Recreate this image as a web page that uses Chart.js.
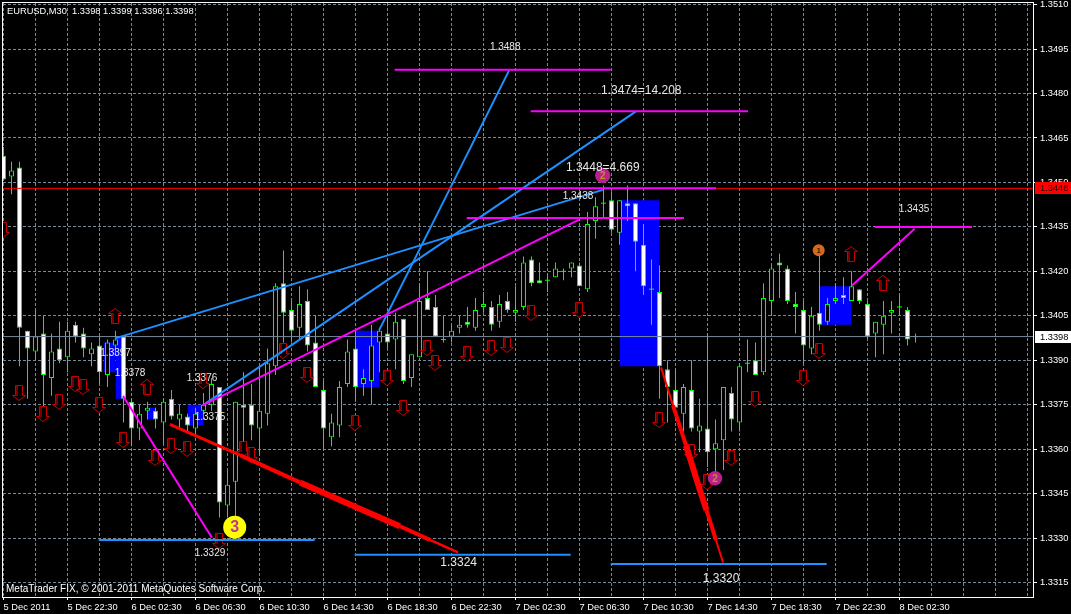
<!DOCTYPE html>
<html>
<head>
<meta charset="utf-8">
<title>EURUSD,M30</title>
<script src="https://cdn.jsdelivr.net/npm/chart.js@4/dist/chart.umd.min.js"></script>
<style>
html, body { margin: 0; padding: 0; background: #000; overflow: hidden; }
canvas { display: block; }
</style>
</head>
<body>
<canvas id="chart" width="1071" height="614"></canvas>
<script>
// bars are numbered from the left edge, one bar = 30 minutes
const barOpen = [1.3459,1.3452,1.3455,1.3400,1.3393,1.3399,1.3384,1.3394,1.3391,1.3402,
1.3399,1.3392,1.3395,1.3385,1.3395,1.3398,1.3376,1.3367,1.3373,1.3373,
1.3369,1.3377,1.3370,1.3371,1.3367,1.3373,1.3375,1.3381,1.3341,1.3349,
1.3375,1.3375,1.3367,1.3372,1.3388,1.3416,1.3407,1.3401,1.3410,1.3396,
1.3380,1.3364,1.3368,1.3382,1.3394,1.3382,1.3383,1.3396,1.3399,1.3397,
1.3404,1.3384,1.3391,1.3411,1.3408,1.3397,1.3398,1.3401,1.3403,1.3401,
1.3408,1.3408,1.3403,1.3410,1.3406,1.3408,1.3424,1.3417,1.3417,1.3418,
1.3420,1.3421,1.3422,1.3414,1.3437,1.3443,1.3444,1.3433,1.3443,1.3443,
1.3429,1.3414,1.3413,1.3387,1.3380,1.3372,1.3380,1.3366,1.3367,1.3360,
1.3363,1.3379,1.3369,1.3389,1.3390,1.3386,1.3410,1.3423,1.3421,1.3409,
1.3407,1.3394,1.3406,1.3403,1.3410,1.3412,1.3410,1.3414,1.3409,1.3399,
1.3402,1.3406,1.3408,1.3407,1.3398];
const barHigh = [1.3462,1.3457,1.3457,1.3400,1.3407,1.3405,1.3399,1.3403,1.3403,1.3403,
1.3401,1.3396,1.3398,1.3397,1.3400,1.3398,1.3377,1.3375,1.3376,1.3374,
1.3377,1.3380,1.3375,1.3372,1.3374,1.3379,1.3384,1.3381,1.3353,1.3376,
1.3386,1.3382,1.3388,1.3394,1.3416,1.3427,1.3410,1.3415,1.3414,1.3405,
1.3383,1.3372,1.3383,1.3397,1.3400,1.3387,1.3402,1.3401,1.3406,1.3406,
1.3404,1.3392,1.3416,1.3420,1.3412,1.3405,1.3402,1.3405,1.3408,1.3411,
1.3413,1.3410,1.3412,1.3413,1.3415,1.3425,1.3425,1.3423,1.3419,1.3423,
1.3421,1.3423,1.3423,1.3440,1.3445,1.3449,1.3447,1.3444,1.3449,1.3443,
1.3436,1.3424,1.3422,1.3390,1.3387,1.3382,1.3390,1.3377,1.3399,1.3370,
1.3381,1.3381,1.3389,1.3397,1.3396,1.3416,1.3422,1.3426,1.3422,1.3413,
1.3410,1.3408,1.3426,1.3411,1.3416,1.3418,1.3420,1.3414,1.3410,1.3403,
1.3410,1.3410,1.3412,1.3408,1.3399];
const barLow = [1.3451,1.3446,1.3388,1.3377,1.3390,1.3374,1.3378,1.3389,1.3386,1.3396,
1.3391,1.3388,1.3382,1.3381,1.3392,1.3369,1.3361,1.3363,1.3370,1.3367,
1.3362,1.3370,1.3367,1.3366,1.3364,1.3370,1.3373,1.3337,1.3337,1.3337,
1.3362,1.3363,1.3358,1.3368,1.3385,1.3396,1.3396,1.3397,1.3393,1.3381,
1.3360,1.3361,1.3364,1.3381,1.3376,1.3378,1.3375,1.3386,1.3394,1.3387,
1.3382,1.3381,1.3391,1.3407,1.3398,1.3396,1.3396,1.3399,1.3401,1.3400,
1.3406,1.3400,1.3401,1.3406,1.3403,1.3407,1.3415,1.3416,1.3413,1.3418,
1.3417,1.3418,1.3415,1.3413,1.3431,1.3438,1.3433,1.3429,1.3437,1.3420,
1.3412,1.3402,1.3377,1.3369,1.3371,1.3366,1.3366,1.3359,1.3354,1.3352,
1.3353,1.3366,1.3366,1.3386,1.3385,1.3385,1.3405,1.3411,1.3409,1.3399,
1.3389,1.3392,1.3400,1.3402,1.3409,1.3409,1.3410,1.3409,1.3397,1.3391,
1.3392,1.3399,1.3405,1.3395,1.3396];
const barClose = [1.3451,1.3454,1.3401,1.3394,1.3398,1.3385,1.3393,1.3390,1.3400,1.3398,
1.3394,1.3394,1.3386,1.3396,1.3397,1.3377,1.3367,1.3372,1.3374,1.3370,
1.3376,1.3371,1.3372,1.3368,1.3372,1.3375,1.3382,1.3342,1.3348,1.3376,
1.3374,1.3368,1.3373,1.3389,1.3415,1.3406,1.3400,1.3409,1.3395,1.3381,
1.3367,1.3369,1.3381,1.3393,1.3381,1.3384,1.3395,1.3400,1.3396,1.3403,
1.3383,1.3392,1.3410,1.3407,1.3398,1.3397,1.3400,1.3402,1.3402,1.3407,
1.3409,1.3402,1.3409,1.3407,1.3407,1.3423,1.3416,1.3416,1.3417,1.3421,
1.3420,1.3423,1.3415,1.3436,1.3442,1.3443,1.3434,1.3444,1.3442,1.3430,
1.3415,1.3414,1.3388,1.3381,1.3374,1.3381,1.3367,1.3368,1.3359,1.3362,
1.3381,1.3370,1.3388,1.3389,1.3385,1.3411,1.3421,1.3422,1.3410,1.3408,
1.3395,1.3405,1.3402,1.3409,1.3411,1.3411,1.3415,1.3410,1.3398,1.3403,
1.3405,1.3407,1.3408,1.3397,1.3398];

const yTicks = [1.3510,1.3495,1.3480,1.3465,1.3450,1.3435,1.3420,1.3405,1.3390,1.3375,1.3360,1.3345,1.3330,1.3315];
const xTickBars = [0,8,16,24,32,40,48,56,64,72,80,88,96,104,112];
const xTickLabels = ['5 Dec 2011','5 Dec 22:30','6 Dec 02:30','6 Dec 06:30','6 Dec 10:30','6 Dec 14:30','6 Dec 18:30','6 Dec 22:30','7 Dec 02:30','7 Dec 06:30','7 Dec 10:30','7 Dec 14:30','7 Dec 18:30','7 Dec 22:30','8 Dec 02:30'];

const askLine = 1.3448;
const bidLine = 1.3398;
const headerText = 'EURUSD,M30  1.3398 1.3399 1.3396 1.3398';
const footerText = 'MetaTrader FIX, © 2001-2011 MetaQuotes Software Corp.';

// [bar from, bar to, price top, price bottom]
const blueBoxes = [
    [12.5,14,1.3396,1.3386],
    [14,15,1.3398,1.3377],
    [18,19,1.3374,1.3370],
    [23,25,1.3375,1.3368],
    [44,47,1.3400,1.3381],
    [77,82,1.3444,1.3388],
    [102,106,1.3415,1.3402]
];

// [bar, price, bar, price]
const blueLines = [
    [13.94,1.33974,74.9,1.34475],
    [24.9,1.33748,79.06,1.3474],
    [46.94,1.34001,63.2,1.34878],
    [11.9,1.33294,38.9,1.33294],
    [43.9,1.33244,70.9,1.33244],
    [75.9,1.33213,102.9,1.33213]
];
const magentaLines = [
    [24.9,1.33748,71.9,1.34374],
    [14.94,1.3378,26.06,1.33301],
    [106.06,1.34152,113.9,1.34344],
    [48.9,1.3488,75.9,1.3488],
    [65.9,1.3474,93.06,1.3474],
    [61.9,1.3448,89.06,1.3448],
    [57.9,1.3438,85.06,1.3438],
    [108.9,1.3435,121.06,1.3435]
];

// the two red wedges, thick in the middle
const wedge1Bars = [20.8,29.56,37.06,45.81,49.56,53.31,56.81];
const wedge1Prices = [1.33684,1.3358,1.33488,1.33384,1.3334,1.33294,1.33252];
const wedge1Widths = [3,4,6,6,4,2.5];
const wedge2Bars = [82.19,83.69,85.31,87.06,87.88,89.06,89.94];
const wedge2Prices = [1.33876,1.33748,1.33613,1.33461,1.33394,1.33293,1.33218];
const wedge2Widths = [2,4,6,6,4,2];

const downArrowBars = [0,2,5,7,9,10,12,15,19,21,23,25,27,30,31,35,38,44,48,50,53,54,58,61,63,66,72,82,86,88,91,94,100,102];
const downArrowPrices = [1.3434,1.3379,1.3372,1.3376,1.3382,1.3381,1.3375,1.3363,1.3357,1.3361,1.3360,1.3383,1.3329,1.3360,1.3358,1.3393,1.3385,1.3369,1.3384,1.3374,1.3394,1.3389,1.3392,1.3394,1.3395,1.3406,1.3407,1.3370,1.3359,1.3349,1.3357,1.3377,1.3384,1.3393];
const upArrowBars = [14,18,106,110];
const upArrowPrices = [1.3405,1.3381,1.3426,1.3416];

const badgeBars = [28.9,74.9,88.94,101.9];
const badgePrices = [1.33337,1.34524,1.33502,1.34271];
const badgeTexts = ['3','2','2','1'];
const badgeSizes = [11.5,7.7,7.2,6];
const badgeColors = ['#ffff00','#b8208c','#b8208c','#d2691e'];
const badgeTextColors = ['#c2348f','#c98a2e','#c98a2e','#3a1a00'];

const noteTexts = ['1.3488','1.3474=14.208','1.3448=4.669','1.3438','1.3435','1.3324','1.3320','1.3329','1.3397','1.3378','1.3376','1.3375'];
const noteBars = [60.8,74.7,70.3,69.9,111.9,54.6,87.4,23.9,12.1,13.9,22.9,23.9];
const notePrices = [1.34956,1.34808,1.34549,1.34455,1.34411,1.33217,1.33163,1.3325,1.33923,1.33856,1.33839,1.33708];
const noteSizes = [10,12,12,10,10,12,12,10,10,10,10,10];

const AXIS_FONT = 'Liberation Sans';
const AXIS_SIZE = 9.3;
const LIME = '#00ff00';

function makeArrow(up) {
    const c = document.createElement('canvas');
    c.width = 15;
    c.height = 16;
    const g = c.getContext('2d');
    if (up) {
        g.translate(0, 16);
        g.scale(1, -1);
    }
    g.beginPath();
    g.moveTo(3.5, 0.5);
    g.lineTo(10.5, 0.5);
    g.lineTo(10.5, 10.5);
    g.lineTo(13.5, 10.5);
    g.lineTo(7, 15.5);
    g.lineTo(0.5, 10.5);
    g.lineTo(3.5, 10.5);
    g.closePath();
    g.fillStyle = '#000';
    g.fill();
    g.strokeStyle = '#c80000';
    g.lineWidth = 1;
    g.stroke();
    g.fillStyle = '#7a0000';
    g.fillRect(4, 1, 2, 10);
    return c;
}

function toPoints(bars, prices) {
    return bars.map((b, i) => ({ x: b, y: prices[i] }));
}

function lineSet(seg, color, width, order) {
    return {
        type: 'line',
        data: [{ x: seg[0], y: seg[1] }, { x: seg[2], y: seg[3] }],
        borderColor: color,
        borderWidth: width,
        pointRadius: 0,
        tension: 0,
        order: order
    };
}

function wedgeSet(bars, prices, widths) {
    return {
        type: 'line',
        data: toPoints(bars, prices),
        borderColor: '#ff0000',
        borderWidth: 3,
        borderCapStyle: 'butt',
        pointRadius: 0,
        tension: 0,
        order: 25,
        segment: { borderWidth: ctx => widths[ctx.p0DataIndex] }
    };
}

const wicks = [];
const bearBodies = [];
const bullBodies = [];
const dojis = [];
barOpen.forEach((o, i) => {
    const c = barClose[i];
    wicks.push({ x: i, y: [barLow[i], barHigh[i]] });
    if (o === c) dojis.push({ x: i, y: o });
    else if (o > c) bearBodies.push({ x: i, y: [c, o] });
    else bullBodies.push({ x: i, y: [o, c] });
});

const datasets = [];
blueBoxes.forEach(b => {
    datasets.push({
        type: 'line',
        data: [{ x: b[0], y: b[2] }, { x: b[1], y: b[2] }],
        borderWidth: 0,
        borderColor: 'rgba(0,0,0,0)',
        backgroundColor: '#0000ff',
        pointRadius: 0,
        fill: { value: b[3] },
        order: 100
    });
});
datasets.push({ type: 'bar', data: wicks, backgroundColor: LIME, barThickness: 1, inflateAmount: 0, grouped: false, order: 60 });
datasets.push({ type: 'bar', data: bearBodies, backgroundColor: '#ffffff', borderColor: LIME, borderWidth: 1, borderSkipped: false, barThickness: 5, inflateAmount: 0, grouped: false, order: 50 });
datasets.push({ type: 'bar', data: bullBodies, backgroundColor: '#000000', borderColor: LIME, borderWidth: 1, borderSkipped: false, barThickness: 5, inflateAmount: 0, grouped: false, order: 50 });
datasets.push({ type: 'scatter', data: dojis, pointStyle: 'line', pointRadius: 2.5, borderColor: LIME, pointBorderWidth: 1, order: 45 });
datasets.push({ type: 'scatter', data: toPoints(downArrowBars, downArrowPrices), pointStyle: makeArrow(false), pointRadius: 8, order: 40 });
datasets.push({ type: 'scatter', data: toPoints(upArrowBars, upArrowPrices), pointStyle: makeArrow(true), pointRadius: 8, order: 40 });
datasets.push(wedgeSet(wedge1Bars, wedge1Prices, wedge1Widths));
datasets.push(wedgeSet(wedge2Bars, wedge2Prices, wedge2Widths));
blueLines.forEach(s => datasets.push(lineSet(s, '#1e90ff', 2, 30)));
datasets.push(lineSet([-1, bidLine, 130, bidLine], '#778899', 1, 35));
datasets.push(lineSet([-1, askLine, 130, askLine], '#ff0000', 1, 28));
magentaLines.forEach(s => datasets.push(lineSet(s, '#ff00ff', 2, 20)));
datasets.push({
    type: 'scatter',
    data: toPoints(badgeBars, badgePrices),
    pointRadius: badgeSizes,
    pointBackgroundColor: badgeColors,
    pointBorderWidth: 0,
    order: 10
});

// texts and frame, MT4 draws them over everything
const overlay = {
    id: 'overlay',
    beforeDraw(chart) {
        const g = chart.ctx;
        g.save();
        g.fillStyle = '#000';
        g.fillRect(0, 0, chart.width, chart.height);
        g.restore();
        g.imageSmoothingEnabled = false;
    },
    afterDraw(chart) {
        const g = chart.ctx;
        const xs = chart.scales.x;
        const ys = chart.scales.y;
        const area = chart.chartArea;
        g.save();

        g.strokeStyle = '#ffffff';
        g.lineWidth = 1;
        g.strokeRect(2.5, 2.5, area.right - 2, area.bottom - 2);

        g.textBaseline = 'middle';
        g.textAlign = 'left';
        noteTexts.forEach((t, i) => {
            g.font = noteSizes[i] + 'px "' + AXIS_FONT + '"';
            g.fillStyle = '#e8e8e8';
            g.fillText(t, xs.getPixelForValue(noteBars[i]), ys.getPixelForValue(notePrices[i]));
        });

        g.textAlign = 'center';
        badgeTexts.forEach((t, i) => {
            g.font = 'bold ' + Math.round(badgeSizes[i] * 1.35) + 'px "' + AXIS_FONT + '"';
            g.fillStyle = badgeTextColors[i];
            g.fillText(t, xs.getPixelForValue(badgeBars[i]), ys.getPixelForValue(badgePrices[i]) + 0.5);
        });

        g.textAlign = 'left';
        g.font = AXIS_SIZE + 'px "' + AXIS_FONT + '"';
        g.fillStyle = '#ffffff';
        g.fillText(headerText, 7, 11);
        g.font = '10px "' + AXIS_FONT + '"';
        g.fillText(footerText, 6, 589);

        // price boxes on the axis
        const askY = ys.getPixelForValue(askLine);
        g.fillStyle = '#ff0000';
        g.fillRect(1035, Math.round(askY) - 6, 36, 12);
        g.fillStyle = '#300000';
        g.font = AXIS_SIZE + 'px "' + AXIS_FONT + '"';
        g.fillText(askLine.toFixed(4), 1040, askY + 0.5);
        const bidY = ys.getPixelForValue(bidLine);
        g.fillStyle = '#ffffff';
        g.fillRect(1035, Math.round(bidY) - 6, 36, 12);
        g.fillStyle = '#000000';
        g.fillText(bidLine.toFixed(4), 1040, bidY + 0.5);
        g.restore();
    }
};

new Chart(document.getElementById('chart'), {
    data: { datasets: datasets },
    options: {
        responsive: false,
        animation: false,
        events: [],
        layout: { autoPadding: false, padding: { left: 3, top: 3, right: 0, bottom: 0 } },
        plugins: { legend: { display: false }, tooltip: { enabled: false } },
        scales: {
            x: {
                type: 'linear',
                offset: false,
                min: -0.0625,
                max: 128.6875,
                afterFit: s => {
                    s.height = 17;
                    s.paddingLeft = 0;
                    s.paddingRight = 0;
                },
                afterBuildTicks: s => {
                    const t = [];
                    for (let b = 0; b <= 128; b += 4) t.push({ value: b });
                    s.ticks = t;
                },
                border: { display: false, dash: [3, 2] },
                grid: {
                    offset: false,
                    color: '#778899',
                    tickColor: c => (c.tick && xTickBars.includes(c.tick.value) ? '#ffffff' : 'rgba(0,0,0,0)'),
                    lineWidth: 1,
                    tickBorderDash: [],
                    tickLength: 3
                },
                ticks: {
                    autoSkip: false,
                    maxRotation: 0,
                    minRotation: 0,
                    align: 'start',
                    padding: 2,
                    color: '#ffffff',
                    font: { family: AXIS_FONT, size: AXIS_SIZE },
                    callback: v => {
                        const k = xTickBars.indexOf(v);
                        return k < 0 ? '' : xTickLabels[k];
                    }
                }
            },
            y: {
                type: 'linear',
                position: 'right',
                min: 1.331014,
                max: 1.351054,
                afterFit: s => {
                    s.width = 38;
                    s.paddingTop = 0;
                    s.paddingBottom = 0;
                },
                afterBuildTicks: s => { s.ticks = yTicks.map(v => ({ value: v })); },
                border: { display: false, dash: [3, 2] },
                grid: {
                    color: '#778899',
                    tickColor: '#ffffff',
                    lineWidth: 1,
                    tickBorderDash: [],
                    tickLength: 4
                },
                ticks: {
                    autoSkip: false,
                    padding: 3,
                    color: '#ffffff',
                    font: { family: AXIS_FONT, size: AXIS_SIZE },
                    callback: v => v.toFixed(4)
                }
            }
        }
    },
    plugins: [overlay]
});
</script>
</body>
</html>
